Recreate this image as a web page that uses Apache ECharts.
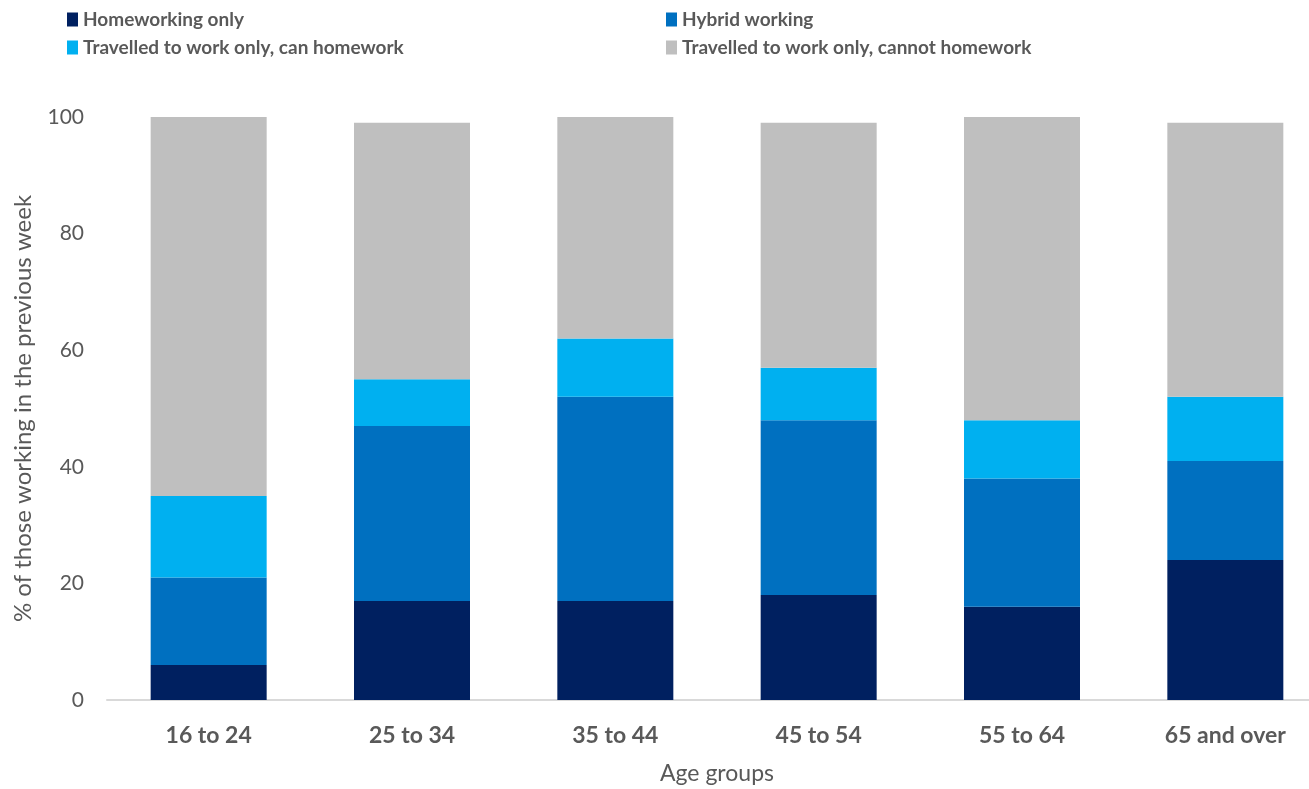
<!DOCTYPE html>
<html><head><meta charset="utf-8">
<script src="https://cdn.jsdelivr.net/npm/echarts@6/dist/echarts.min.js"></script>
<style>html,body{margin:0;padding:0;background:#fff}#c{width:1309px;height:789px}</style>
</head><body><div id="c"></div>
<script>
const categories = ['16 to 24','25 to 34','35 to 44','45 to 54','55 to 64','65 and over'];
const homeworkingOnly = [6, 17, 17, 18, 16, 24];
const hybridWorking = [15, 30, 35, 30, 22, 17];
const travelledCan = [14, 8, 10, 9, 10, 11];
const travelledCannot = [65, 44, 38, 42, 52, 47];
const yTicks = [0, 20, 40, 60, 80, 100];

const names = ['Homeworking only','Hybrid working','Travelled to work only, can homework','Travelled to work only, cannot homework'];
const colors = ['#002060','#0070C0','#00B0F0','#BFBFBF'];
const values = [homeworkingOnly, hybridWorking, travelledCan, travelledCannot];
const font = 'Lato';
const legendText = {color:'#595959', fontSize:19, fontWeight:'bold', fontFamily:font};
const chart = echarts.init(document.getElementById('c'), null, {renderer:'canvas'});
chart.setOption({
  animation:false,
  color: colors,
  legend: [
    {orient:'vertical', left:62, top:5, itemWidth:11, itemHeight:14, itemGap:9, icon:'rect',
     textStyle:legendText, data:[names[0], names[2]]},
    {orient:'vertical', left:661, top:5, itemWidth:11, itemHeight:14, itemGap:9, icon:'rect',
     textStyle:legendText, data:[names[1], names[3]]}
  ],
  grid:{left:107, right:-18, top:117, bottom:89, containLabel:false, outerBoundsMode:'none'},
  xAxis:{type:'category', data:categories,
    axisLine:{lineStyle:{color:'#D9D9D9', width:2}}, axisTick:{show:false},
    axisLabel:{color:'#595959', fontSize:23, fontWeight:'bold', fontFamily:font, margin:24},
    name:'Age groups', nameLocation:'middle', nameGap:62,
    nameTextStyle:{color:'#595959', fontSize:23, fontFamily:font}},
  yAxis:{type:'value', min:yTicks[0], max:yTicks[yTicks.length-1], interval:20,
    splitLine:{show:false}, axisLine:{show:false}, axisTick:{show:false},
    axisLabel:{color:'#595959', fontSize:21, fontFamily:font, margin:23},
    name:'% of those working in the previous week', nameLocation:'middle', nameGap:72,
    nameTextStyle:{color:'#595959', fontSize:24, fontFamily:font}},
  series: names.map((n,i)=>({name:n, type:'bar', stack:'total', data:values[i], barWidth:116,
    itemStyle:{color:colors[i]}}))
});
</script></body></html>
